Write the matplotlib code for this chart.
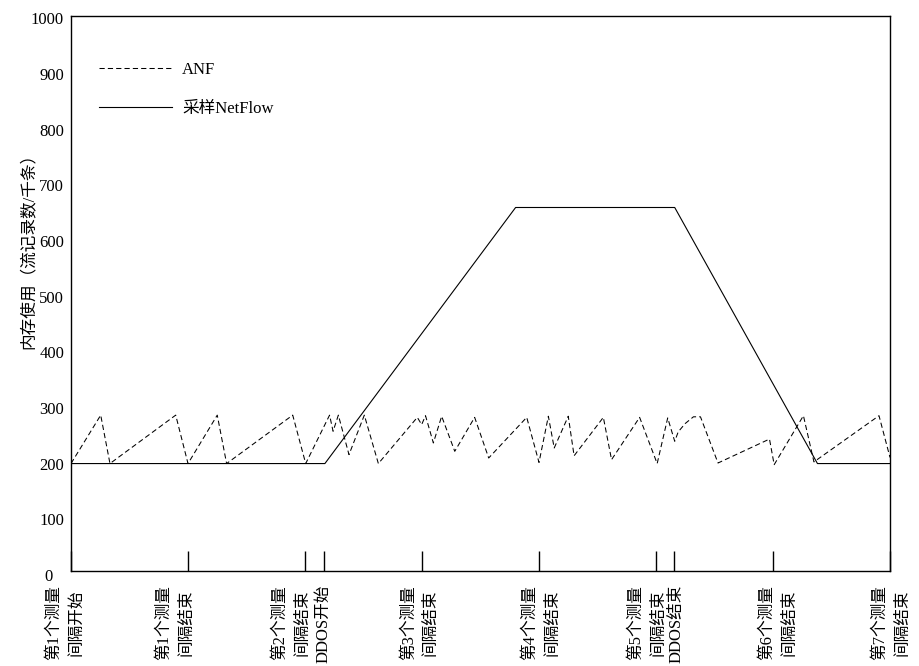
import numpy as np
import matplotlib
matplotlib.use("Agg")
import matplotlib.pyplot as plt
import matplotlib.transforms as mtransforms

plt.rcParams['font.family'] = ['Liberation Serif', 'Noto Sans CJK SC']
plt.rcParams['axes.unicode_minus'] = False

# time axis: one measurement interval = 10 units
event_pos = [0, 10, 20, 21.6, 30, 40, 50, 51.5, 60, 70]
event_labels = [
    "第1个测量\n间隔开始",
    "第1个测量\n间隔结束",
    "第2个测量\n间隔结束",
    "DDOS开始",
    "第3个测量\n间隔结束",
    "第4个测量\n间隔结束",
    "第5个测量\n间隔结束",
    "DDOS结束",
    "第6个测量\n间隔结束",
    "第7个测量\n间隔结束",
]
# small horizontal nudges of the labels (points), as in the original
label_shift = [-4, -9, -10, 0, -1.5, 1.5, -6.5, 2, 4, 1]

anf_x = [0, 2.54, 3.33, 8.95, 10.0, 12.5, 13.3, 18.95, 20.06, 22.1, 22.4, 22.85,
         23.76, 25.07, 26.27, 29.6, 29.97, 30.3, 30.97, 31.68, 32.8, 34.5, 35.7,
         38.95, 40.0, 40.8, 41.3, 42.5, 43.0, 45.5, 46.2, 48.6, 50.1, 51.0, 51.6,
         51.9, 52.5, 53.2, 53.8, 55.3, 59.7, 60.1, 62.6, 63.5, 69.06, 70]
anf_y = [200, 287, 200, 287, 200, 287, 200, 287, 200, 287, 258, 287,
         216, 287, 200, 283, 270, 286, 237, 285, 222, 283, 210,
         283, 202, 285, 228, 285, 214, 283, 207, 283, 200, 282, 240,
         257, 272, 284, 284, 201, 244, 198, 286, 203, 286, 211]

nf_x = [0, 21.7, 38.0, 51.6, 63.8, 70]
nf_y = [200, 200, 660, 660, 200, 200]

y_ticks = [100, 200, 300, 400, 500, 600, 700, 800, 900, 1000]

fig = plt.figure(figsize=(9.19, 6.66), dpi=100)
ax = fig.add_axes([71/919, 1 - 571/666, 819/919, 555/666])

ax.plot(anf_x, anf_y, color='black', lw=0.75, linestyle=(0, (5, 3)), label='ANF')
ax.plot(nf_x, nf_y, color='black', lw=0.8, label='采样NetFlow')

ax.set_xlim(0, 70)
ax.set_ylim(7, 1004)

for s in ax.spines.values():
    s.set_linewidth(1.0)

ax.set_yticks(y_ticks)
ax.tick_params(axis='y', length=0, pad=5, labelsize=12)
zero_tr = mtransforms.blended_transform_factory(ax.transAxes, ax.transData) + \
    mtransforms.ScaledTranslation(0, -1.5 / 72, fig.dpi_scale_trans)
ax.text(-0.027, 0, "0", transform=zero_tr, ha='center', va='center', fontsize=12)

ax.set_xticks(event_pos)
ax.set_xticklabels(event_labels, rotation=90, fontsize=12, linespacing=1.5)
ax.tick_params(axis='x', direction='in', length=14.5, width=1.0, pad=10)
for lab, dx in zip(ax.get_xticklabels(), label_shift):
    lab.set_transform(lab.get_transform() + mtransforms.ScaledTranslation(dx / 72, 0, fig.dpi_scale_trans))

ax.set_ylabel("内存使用（流记录数/千条）", fontsize=12)
ax.yaxis.set_label_coords(-0.042, 0.583)

ax.legend(loc='upper left', bbox_to_anchor=(0.034, 0.917), frameon=False, fontsize=12,
          handlelength=4.4, handletextpad=0.6, labelspacing=1.35,
          borderaxespad=0, borderpad=0)

fig.savefig("out.png", dpi=100)
